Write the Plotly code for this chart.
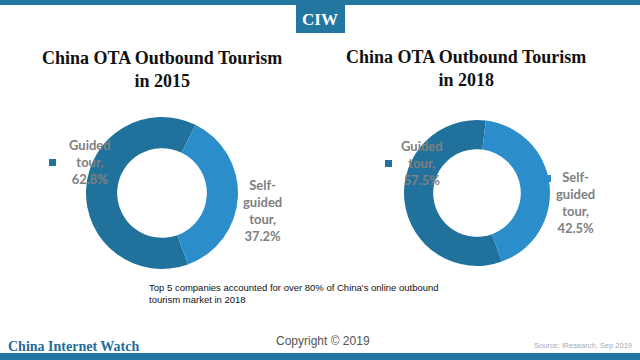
import plotly.graph_objects as go

categories = ["Guided tour", "Self-guided tour"]
share_2015 = [62.8, 37.2]
share_2018 = [57.5, 42.5]
titles = ["China OTA Outbound Tourism<br>in 2015", "China OTA Outbound Tourism<br>in 2018"]
label_2015 = ["Guided<br>tour,<br>62.8%", "Self-<br>guided<br>tour,<br>37.2%"]
label_2018 = ["Guided<br>tour,<br>57.5%", "Self-<br>guided<br>tour,<br>42.5%"]

DARK = "#20729c"
LIGHT = "#2b8ecb"
BAR = "#22769f"
W, H = 640, 360

def px(x):
    return x / W

def py(y):
    return 1 - y / H

fig = go.Figure()
fig.add_trace(go.Pie(
    labels=categories, values=share_2015, hole=0.59, sort=False,
    direction="clockwise", rotation=160, textinfo="none",
    marker=dict(colors=[DARK, LIGHT], line=dict(width=0)),
    domain=dict(x=[px(86), px(238)], y=[py(269), py(117)]),
    showlegend=False, hoverinfo="label+percent"))
fig.add_trace(go.Pie(
    labels=categories, values=share_2018, hole=0.6, sort=False,
    direction="clockwise", rotation=160, textinfo="none",
    marker=dict(colors=[DARK, LIGHT], line=dict(width=0)),
    domain=dict(x=[px(404), px(550)], y=[py(266), py(120)]),
    showlegend=False, hoverinfo="label+percent"))

ann = []
title_font = dict(family="Liberation Serif", size=18, color="#111111")
ann.append(dict(text="<b>" + titles[0] + "</b>", x=px(162), y=py(70), font=title_font))
ann.append(dict(text="<b>" + titles[1] + "</b>", x=px(466), y=py(68), font=title_font))

lab_font = dict(family="Lato", size=13, color="#808080")
ann.append(dict(text="<b>" + label_2015[0] + "</b>", x=px(90), y=py(162), font=lab_font))
ann.append(dict(text="<b>" + label_2015[1] + "</b>", x=px(262), y=py(210), font=lab_font))
ann.append(dict(text="<b>" + label_2018[0] + "</b>", x=px(422), y=py(163), font=lab_font))
ann.append(dict(text="<b>" + label_2018[1] + "</b>", x=px(575), y=py(202), font=lab_font))

ann.append(dict(text="Top 5 companies accounted for over 80% of China's online outbound<br>tourism market in 2018",
                x=px(147), y=py(293), xanchor="left", align="left",
                font=dict(family="Liberation Sans", size=9.5, color="#111111")))
ann.append(dict(text="<b>CIW</b>", x=px(320), y=py(19),
                font=dict(family="Liberation Serif", size=17, color="white")))
ann.append(dict(text="<b>China Internet Watch</b>", x=px(6), y=py(346), xanchor="left",
                font=dict(family="Liberation Serif", size=14, color="#1f6d97")))
ann.append(dict(text="Copyright © 2019", x=px(323), y=py(341),
                font=dict(family="Liberation Sans", size=12, color="#555555")))
ann.append(dict(text="Source: iResearch, Sep 2019", x=px(634), y=py(345), xanchor="right",
                font=dict(family="Liberation Sans", size=7.5, color="#aaaaaa")))
for a in ann:
    a.update(xref="paper", yref="paper", showarrow=False)
    a.setdefault("xanchor", "center")
    a.setdefault("yanchor", "middle")

shapes = [
    dict(type="rect", x0=0, x1=1, y0=py(5), y1=1, fillcolor=BAR, line_width=0),
    dict(type="rect", x0=0, x1=1, y0=0, y1=py(353), fillcolor=BAR, line_width=0),
    dict(type="rect", x0=px(296), x1=px(345), y0=py(33), y1=py(5), fillcolor=BAR, line_width=0),
    dict(type="rect", x0=px(49), x1=px(56), y0=py(166), y1=py(159), fillcolor=DARK, line_width=0),
    dict(type="rect", x0=px(385), x1=px(392), y0=py(167), y1=py(160), fillcolor=DARK, line_width=0),
    dict(type="rect", x0=px(547), x1=px(551), y0=py(182), y1=py(175), fillcolor=LIGHT, line_width=0),
]
for s in shapes:
    s.update(xref="paper", yref="paper", layer="below")

fig.update_layout(width=W, height=H, margin=dict(l=0, r=0, t=0, b=0),
                  paper_bgcolor="white", plot_bgcolor="white",
                  annotations=ann, shapes=shapes)
fig.write_html("out.html", config={"displayModeBar": False},
               post_script="document.body.style.margin='0';document.body.style.overflow='hidden';")
